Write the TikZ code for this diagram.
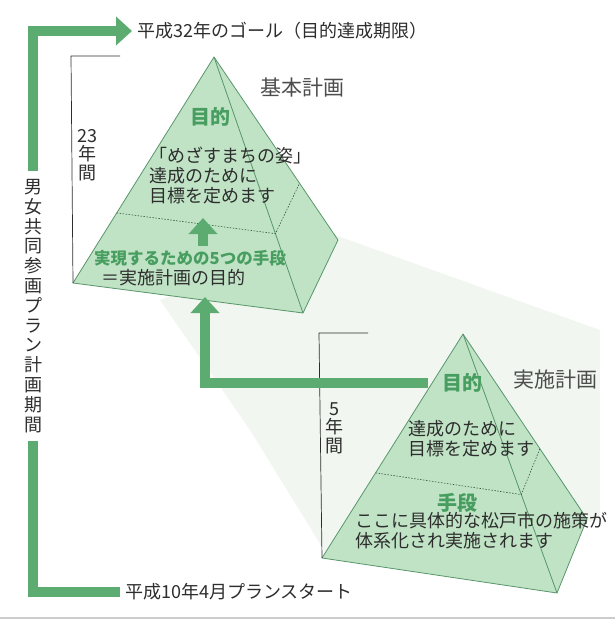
\documentclass[tikz,border=0pt]{standalone}
\usepackage{fontspec}
\setmainfont{Noto Sans CJK JP}
\usetikzlibrary{arrows.meta,calc}

\definecolor{barGreen}{RGB}{92,172,114}
\definecolor{faceGreen}{RGB}{192,227,197}
\definecolor{edgeGreen}{RGB}{88,150,106}
\definecolor{labelGreen}{RGB}{72,158,96}
\definecolor{textGray}{RGB}{45,45,45}
\definecolor{glowGreen}{RGB}{241,247,240}

\tikzset{
  bigarrow/.style={draw=barGreen, line width=10pt, -{Triangle[width=28pt,length=16pt]}},
  bar/.style={draw=barGreen, line width=10pt},
  face/.style={fill=faceGreen, draw=edgeGreen, line width=0.8pt, line join=round},
  edge/.style={draw=edgeGreen, line width=0.8pt},
  cut/.style={draw=edgeGreen!60!black, line width=0.6pt, dash pattern=on 1.5pt off 1.5pt},
  bracket/.style={draw=textGray, line width=0.7pt},
  txt/.style={text=textGray, font=\fontsize{18}{20}\selectfont, inner sep=0pt, align=left},
  head/.style={text=labelGreen, font=\bfseries\fontsize{20}{22}\selectfont, inner sep=0pt},
  plan/.style={text=textGray!85, font=\fontsize{21}{22}\selectfont, inner sep=0pt},
  yrs/.style={text=textGray, font=\fontsize{18}{18.5}\selectfont, align=center, inner sep=0pt},
}

\begin{document}
\begin{tikzpicture}[x=1pt,y=-1pt]
\useasboundingbox (0,0) rectangle (615,620);

% soft band between the two plans
\fill[glowGreen] (160,300) -- (335,235) -- (600,330) -- (600,520) -- (330,560) -- (250,430) -- cycle;

% basic plan pyramid
\coordinate (A1) at (214,57);
\coordinate (L1) at (73,283);
\coordinate (F1) at (303,313);
\coordinate (R1) at (338,240);
\path[face] (A1) -- (L1) -- (F1) -- (R1) -- cycle;
\path[edge] (A1) -- (F1);
\path[cut] ($(A1)!0.69!(L1)$) -- ($(A1)!0.69!(F1)$) -- ($(A1)!0.69!(R1)$);

% implementation plan pyramid
\coordinate (A2) at (463,334);
\coordinate (L2) at (322,558);
\coordinate (F2) at (557,593);
\coordinate (R2) at (587,519);
\path[face] (A2) -- (L2) -- (F2) -- (R2) -- cycle;
\path[edge] (A2) -- (F2);
\path[cut] ($(A2)!0.62!(L2)$) -- ($(A2)!0.62!(F2)$) -- ($(A2)!0.62!(R2)$);

% texts
\node[txt, anchor=west] (goal) at (137,31) {平成32年のゴール（目的達成期限）};
\node[txt, anchor=west] (start) at (125,592) {平成10年4月プランスタート};
\node[txt, font=\fontsize{18}{19.8}\selectfont, align=center, outer sep=8pt] (period) at (33,306)
  {男\\女\\共\\同\\参\\画\\プ\\ラ\\ン\\計\\画\\期\\間};

\node[plan] (basic) at (302,88) {基本計画};
\node[yrs] (yrs23) at (87,155) {23\\年\\間};
\node[head] (purpose1) at (210,117) {目的};
\node[txt, anchor=north west] (desc1) at (149,147) {「めざすまちの姿」\\達成のために\\目標を定めます};
\node[head, font=\bfseries\fontsize{16.5}{20}\selectfont] (means1) at (190,258) {実現するための5つの手段};
\node[txt, anchor=west] (sub1) at (101,278) {＝実施計画の目的};

\node[plan] (impl) at (555,380) {実施計画};
\node[yrs] (yrs5) at (334,428) {5\\年\\間};
\node[head] (purpose2) at (462,383) {目的};
\node[txt, anchor=north west] (desc2) at (408,420) {達成のために\\目標を定めます};
\node[head] (means2) at (457,503) {手段};
\node[txt, anchor=north west] (desc3) at (355,512) {ここに具体的な松戸市の施策が\\体系化され実施されます};

% brackets
\path[bracket] (120,56) -- (71,56) -- (L1);
\path[bracket] (368,333) -- (319,333) -- (L2);

% arrows
\coordinate (s1) at (203,246);
\coordinate (s2) at (203,218);
\coordinate (topin) at (205,297);
\path[bigarrow] (s1) -- (s2);
\path[bigarrow] ([xshift=-14pt]purpose2.west) -| (topin);
\path[bigarrow, shorten >=5pt] (period.north) |- (goal.west);
\path[bar, shorten >=5pt] (period.south) |- (start.west);

% bottom rule
\draw[draw=gray!40, line width=1.2pt] (0,618) -- (615,618);
\end{tikzpicture}
\end{document}
